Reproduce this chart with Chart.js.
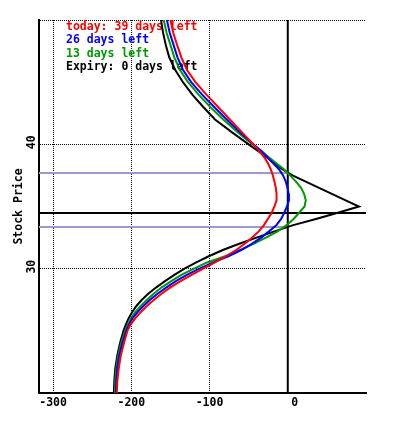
<!DOCTYPE html>
<html>
<head>
<meta charset="utf-8">
<script src="https://cdn.jsdelivr.net/npm/chart.js@4"></script>
<style>
  html, body { margin: 0; padding: 0; background: #fff; }
  canvas { display: block; }
</style>
</head>
<body>
<canvas id="pl-chart" width="396" height="432"></canvas>
<script>
// stock price levels (y) shared by every curve
const prices = [50, 49, 48, 47, 46, 45, 44, 43, 42, 41, 40, 39.5, 39, 38.5, 38, 37.5, 37, 36.5, 36, 35.5,
                35, 34.5, 34, 33.5, 33, 32.5, 32, 31.5, 31, 30.5, 30, 29.5, 29, 28.5, 28, 27.5, 27, 26.5, 26, 25.5,
                25, 24, 23, 22, 21, 20];

// profit / loss at each price level
const today39 = [-150, -146.5, -141.5, -136, -129, -118, -104, -89, -74, -59, -44, -37, -30.5, -25.5, -21.8, -19, -17, -15.3, -14.3, -14.3,
                 -17, -20.5, -25.5, -30.5, -37, -45.5, -55, -66, -79, -93, -108, -123, -137, -150, -161, -171, -180, -188, -195, -201,
                 -205, -209.5, -213.5, -216, -217.8, -218.6];
const left26 = [-154.5, -151, -146, -141, -134, -123.5, -109.5, -94, -78, -61.5, -44, -35, -27, -19, -11.2, -6, -2.5, -0.3, 1.2, 1.5,
                -1, -4.5, -8.5, -14.5, -24, -34, -46, -59.5, -76, -95, -113, -129, -143, -155, -166, -176, -184.5, -192, -198.5, -203,
                -206.5, -211.5, -215.5, -218, -219.2, -219.7];
const left13 = [-158.5, -155, -150, -145, -138, -127.5, -114, -99, -82.5, -64.5, -45, -34, -25, -15, -5, 3, 10.5, 17, 21, 23,
                21.5, 14.5, 7.5, -1.5, -13, -28, -44, -61, -80, -103, -120, -136, -149, -161, -171, -180, -188, -195, -200.5, -204.5,
                -208, -213, -216.8, -219.3, -220.5, -221];
const expiry0 = [-162, -159.5, -156, -151.5, -144, -134, -122, -108, -93, -72, -50, -39, -28, -17, -7, 6, 23, 40, 57, 74,
                 91, 64, 36, 7, -17, -40, -62, -83, -101, -117, -132, -145, -157, -168, -178, -186.5, -193.5, -199, -203.5, -207,
                 -210, -214.5, -218, -220.5, -221.7, -222.3];

const seriesLabels = ['today: 39 days left', '26 days left', '13 days left', 'Expiry: 0 days left'];

const currentPrice = 34.47;
const breakevens = [37.69, 33.35];

const xRange = [-318, 100];
const yRange = [20, 50];
const xTicks = [-300, -200, -100, 0];
const yTicks = [20, 30, 40, 50];
const yLabels = [30, 40];

const FONT = { family: "'DejaVu Sans Mono', monospace", size: 11.5, weight: 'bold' };

function toPoints(values) {
    return values.map((v, i) => ({ x: v, y: prices[i] }));
}

function curve(label, values, color) {
    return { label: label, data: toPoints(values), borderColor: color, borderWidth: 2,
             pointRadius: 0, showLine: true, tension: 0, fill: false };
}

function refLine(points, color) {
    return { label: '', data: points, borderColor: color, borderWidth: 2,
             pointRadius: 0, showLine: true, tension: 0, fill: false };
}

// colored text legend in the top left corner of the plot
const textLegend = {
    id: 'textLegend',
    beforeDatasetsDraw(chart) {
        const ctx = chart.ctx;
        ctx.save();
        ctx.font = 'bold 11.5px "DejaVu Sans Mono", monospace';
        ctx.textAlign = 'left';
        ctx.textBaseline = 'alphabetic';
        seriesLabels.forEach((text, i) => {
            ctx.fillStyle = chart.data.datasets[i].borderColor;
            ctx.fillText(text, chart.chartArea.left + 27, chart.chartArea.top + 10 + i * 13.3);
        });
        ctx.restore();
    }
};

const datasets = [
    curve(seriesLabels[0], today39, '#ff0000'),
    curve(seriesLabels[1], left26, '#0000ff'),
    curve(seriesLabels[2], left13, '#009900'),
    curve(seriesLabels[3], expiry0, '#000000'),
    refLine([{ x: 0, y: yRange[0] }, { x: 0, y: yRange[1] }], '#000000'),
    refLine([{ x: xRange[0], y: currentPrice }, { x: xRange[1], y: currentPrice }], '#000000'),
    refLine([{ x: xRange[0], y: breakevens[0] }, { x: 0, y: breakevens[0] }], '#9a9ace'),
    refLine([{ x: xRange[0], y: breakevens[1] }, { x: 0, y: breakevens[1] }], '#9a9ace')
];

new Chart(document.getElementById('pl-chart').getContext('2d'), {
    type: 'scatter',
    data: { datasets: datasets },
    plugins: [textLegend],
    options: {
        responsive: false,
        animation: false,
        devicePixelRatio: 1,
        layout: { padding: { top: 20, right: 30, left: 0, bottom: 0 } },
        plugins: {
            legend: { display: false },
            tooltip: { enabled: false }
        },
        scales: {
            x: {
                type: 'linear',
                position: 'bottom',
                min: xRange[0],
                max: xRange[1],
                afterBuildTicks: (axis) => { axis.ticks = xTicks.map(v => ({ value: v })); },
                afterFit: (axis) => { axis.height = 39; },
                grid: { color: '#000', lineWidth: 1, drawTicks: false },
                border: { color: '#000', width: 2, dash: [1, 1] },
                ticks: {
                    autoSkip: false,
                    maxRotation: 0,
                    padding: 3,
                    color: '#000',
                    font: FONT,
                    callback: (v) => (v === 0 ? '  0' : String(v))
                }
            },
            y: {
                type: 'linear',
                min: yRange[0],
                max: yRange[1],
                afterBuildTicks: (axis) => { axis.ticks = yTicks.map(v => ({ value: v })); },
                afterFit: (axis) => { axis.width = 39; },
                grid: { color: '#000', lineWidth: 1, drawTicks: false },
                border: { color: '#000', width: 2, dash: [1, 1] },
                title: {
                    display: true,
                    text: 'Stock Price',
                    color: '#000',
                    font: FONT,
                    padding: { top: 12, bottom: 0 }
                },
                ticks: {
                    autoSkip: false,
                    minRotation: 90,
                    maxRotation: 90,
                    crossAlign: 'center',
                    padding: 0,
                    labelOffset: -2,
                    color: '#000',
                    font: FONT,
                    callback: (v) => (yLabels.includes(v) ? String(v) : '')
                }
            }
        }
    }
});
</script>
</body>
</html>
